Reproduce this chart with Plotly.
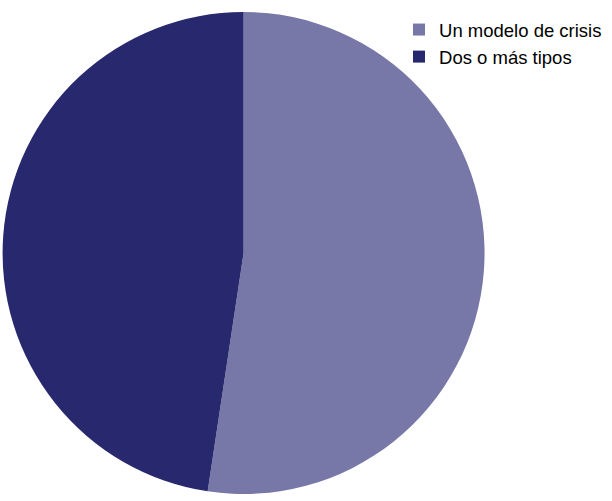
import plotly.graph_objects as go

categories = ["Un modelo de crisis", "Dos o más tipos"]
counts = [11, 10]
colors = ["#7878A8", "#28286E"]

fig = go.Figure(
    go.Pie(
        labels=categories,
        values=counts,
        marker=dict(colors=colors, line=dict(width=0)),
        sort=False,
        direction="clockwise",
        rotation=0,
        textinfo="none",
        hoverinfo="label+value+percent",
        domain=dict(x=[0.004, 0.792], y=[0.014, 0.976]),
    )
)

fig.update_layout(
    width=612,
    height=501,
    margin=dict(l=0, r=0, t=0, b=0, autoexpand=False),
    paper_bgcolor="white",
    plot_bgcolor="white",
    font=dict(family="Liberation Sans, Arial, sans-serif", size=18.5, color="#000000"),
    legend=dict(
        x=0.652,
        y=0.978,
        xanchor="left",
        yanchor="top",
        bgcolor="rgba(0,0,0,0)",
        tracegroupgap=0,
        itemwidth=30,
    ),
)

fig.write_html("out.html")
